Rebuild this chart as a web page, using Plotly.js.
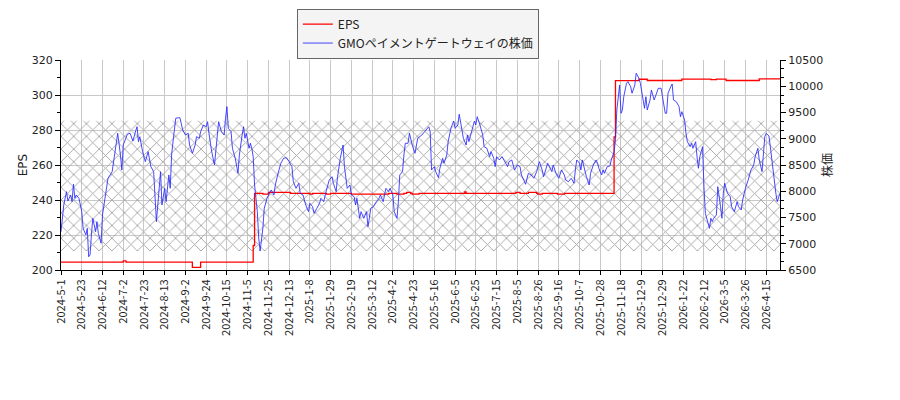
<!DOCTYPE html>
<html>
<head>
<meta charset="utf-8">
<script src="https://cdn.plot.ly/plotly-3.0.1.min.js"></script>
<style>
  body { margin: 0; background: #fff; }
  #myDiv { width: 900px; height: 400px; }
</style>
</head>
<body>
<div id="myDiv"></div>
<script>
// x axis is the trading-day index, tick every 15 days
var tickLabels = ['2024-5-1','2024-5-23','2024-6-12','2024-7-2','2024-7-23','2024-8-13','2024-9-2',
  '2024-9-24','2024-10-15','2024-11-5','2024-11-25','2024-12-13','2025-1-8','2025-1-29','2025-2-19',
  '2025-3-12','2025-4-2','2025-4-23','2025-5-16','2025-6-5','2025-6-25','2025-7-15','2025-8-5',
  '2025-8-26','2025-9-16','2025-10-7','2025-10-28','2025-11-18','2025-12-9','2025-12-29','2026-1-22',
  '2026-2-12','2026-3-5','2026-3-26','2026-4-15'];

var epsIdx = [0,45,47,95,101,139,140,146,150,166,180,182,192,195,210,237,243,248,250,253,
  254,259,292,293,329,332,338,344,345,348,359,364,400,401,418,424,449,470,474,481,505,520];
var epsVal = [204.5,205.2,204.5,201.5,204.5,214,243.8,243.3,244.3,243.8,243.3,243.8,243.3,243.8,243.3,243.8,243.3,243.8,244.3,243.8,
  243.3,243.8,244.6,243.8,244.3,243.8,244.4,243.8,243.3,243.8,243.3,243.8,276,308.2,309.0,308.3,309.1,308.8,309.1,308.3,309.2,309.2];

var priceIdx = [0,2,4,5,7,8,9,10,11,13,15,16,18,19,20,21,22,23,25,26,27,29,30,32,34,37,39,41,43,44,
  45,48,50,52,54,55,56,57,59,61,63,65,67,68,69,70,72,73,75,76,78,79,80,81,83,85,86,88,90,92,
  93,95,97,98,100,101,103,105,106,107,109,111,113,114,116,118,119,120,121,123,124,126,128,129,131,132,133,134,136,137,
  138,139,140,142,143,144,146,147,149,150,152,154,155,157,159,161,163,165,167,168,170,172,173,175,177,179,180,182,183,185,
  187,188,190,192,194,196,197,199,200,202,204,205,207,209,210,212,213,214,216,217,219,221,222,223,224,226,228,230,231,233,
  235,237,238,240,241,243,244,245,247,248,249,251,252,254,256,258,261,263,266,267,268,270,271,273,274,276,277,279,280,282,
  284,285,287,288,290,291,293,294,295,297,299,300,301,303,305,306,308,310,311,313,314,315,317,319,321,323,324,326,328,330,
  332,333,335,336,338,340,342,344,346,348,349,351,352,355,356,358,360,362,364,365,367,369,371,372,373,375,376,377,379,380,
  382,383,385,387,388,389,391,392,393,395,397,398,400,401,402,403,404,405,406,407,409,410,412,413,415,416,418,419,420,422,
  423,424,426,427,429,431,432,434,435,437,438,439,441,442,443,445,447,448,449,451,452,453,455,456,457,459,460,461,462,463,
  464,465,466,468,469,470,471,472,474,475,476,477,478,479,480,482,484,485,487,489,490,492,493,495,497,499,501,502,504,505,
  507,508,509,510,512,513,515,516,517,518,520];
var priceVal = [7230,7738,7992,7814,7929,7801,8133,7866,7929,7866,7611,7294,7167,7294,6753,6786,7167,7485,7230,7420,7199,7009,7548,7929,8247,8373,8723,9104,8691,8405,
  8881,9085,9104,8957,9148,9230,8944,9039,8754,8563,8754,8468,8373,7929,7420,7738,8373,7738,8056,7801,8310,8056,8691,8944,9390,9401,9401,9167,9072,9104,
  8881,8723,8881,9039,9009,9135,9262,9230,9325,9104,8754,8500,9009,9325,9135,9072,9390,9611,9199,9135,8818,8628,8342,8691,9072,9230,9009,9104,8818,8914,
  8818,8658,8119,7611,7104,6862,7294,7675,7866,7929,8024,7929,8119,8342,8533,8628,8639,8563,8468,8182,8056,8152,7961,7929,7738,7611,7771,7706,7580,7675,
  7771,7866,7801,8024,8215,8277,8152,7992,8277,8628,8881,8468,8056,8119,7929,7896,7738,7866,7485,7611,7485,7611,7325,7485,7675,7706,7801,7866,7929,7801,
  8056,7992,8056,7929,7611,7485,7801,8310,8373,8691,8914,8914,9104,8881,8723,9009,9072,9135,9230,9135,8405,8468,8373,8258,8437,8628,8533,8691,8944,9199,
  9338,9199,9262,9466,9199,9009,8881,9072,8944,9135,9338,9262,9420,9262,9072,8849,8818,8658,8754,8628,8468,8658,8596,8658,8563,8468,8563,8596,8405,8500,
  8468,8310,8195,8133,8342,8310,8247,8373,8563,8405,8277,8437,8533,8373,8500,8342,8247,8405,8310,8215,8182,8247,8152,8405,8596,8533,8405,8596,8342,8277,
  8119,8342,8500,8596,8533,8437,8310,8405,8342,8468,8481,8596,8754,8977,9548,9866,10024,9485,9548,9801,10057,10087,9992,9866,10024,10247,10152,10057,9897,9580,
  9801,9548,9739,9929,9739,9866,9961,9961,9801,9485,9485,9866,9992,10043,9739,9706,9611,9420,9516,9358,9104,8944,8849,8914,8818,8944,8658,8437,8658,8786,
  8849,8087,7580,7390,7294,7485,7420,7485,7548,8087,7834,7706,7485,7961,8152,7961,7896,7706,7611,7801,7706,7643,7834,8056,8215,8405,8500,8658,8818,8596,
  8373,8723,9039,9104,9053,8849,8405,8119,7961,7801,7961];

// hatched band, in EPS units
var bandLow = 210.9;
var bandHigh = 285.3;

var tickVals = tickLabels.map(function (t, i) { return i * 15; });
var xEnd = priceIdx[priceIdx.length - 1];

var band = {
  x: [0, xEnd, xEnd, 0, 0],
  y: [bandLow, bandLow, bandHigh, bandHigh, bandLow],
  type: 'scatter', mode: 'lines', fill: 'toself',
  line: {width: 0},
  fillcolor: 'rgba(0,0,0,0)',
  fillpattern: {shape: 'x', size: 9, solidity: 0.2, fgcolor: '#a8a8a8', bgcolor: 'rgba(255,255,255,0)'},
  showlegend: false, hoverinfo: 'skip'
};

var eps = {
  x: epsIdx, y: epsVal, name: 'EPS',
  type: 'scatter', mode: 'lines',
  line: {color: '#ff0000', width: 1.3, shape: 'hv'}
};

var price = {
  x: priceIdx, y: priceVal, name: 'GMOペイメントゲートウェイの株価',
  type: 'scatter', mode: 'lines', yaxis: 'y2',
  line: {color: 'rgba(40,40,255,0.85)', width: 1}
};

var tickFont = {family: 'DejaVu Sans', size: 11, color: '#222'};

var layout = {
  width: 900, height: 400,
  margin: {l: 61, r: 120, t: 60, b: 130, autoexpand: false},
  paper_bgcolor: '#fff', plot_bgcolor: '#fff',
  showlegend: true,
  legend: {
    x: 0.328, y: 1.245, xanchor: 'left', yanchor: 'top',
    bgcolor: '#f4f4f4', bordercolor: '#666', borderwidth: 1,
    font: {family: 'Noto Sans CJK JP', size: 12, color: '#222'},
    tracegroupgap: 0
  },
  xaxis: {
    range: [0, xEnd],
    tickmode: 'array', tickvals: tickVals, ticktext: tickLabels,
    tickangle: -90,
    tickfont: {family: 'Noto Sans CJK JP', size: 11, color: '#222'},
    ticks: 'outside', ticklen: 4, tickcolor: '#000',
    showgrid: true, gridcolor: '#c8c8c8', gridwidth: 1,
    showline: true, linecolor: '#000', linewidth: 1,
    zeroline: false
  },
  yaxis: {
    range: [200, 320], dtick: 20,
    title: {text: 'EPS', font: {family: 'DejaVu Sans', size: 12, color: '#222'}},
    tickfont: tickFont,
    ticks: 'outside', ticklen: 5, tickcolor: '#000',
    minor: {dtick: 10, ticks: 'outside', ticklen: 3, tickcolor: '#000', showgrid: false},
    showgrid: true, gridcolor: '#c8c8c8', gridwidth: 1,
    showline: true, linecolor: '#000', linewidth: 1,
    zeroline: false
  },
  yaxis2: {
    overlaying: 'y', side: 'right',
    range: [6500, 10500], dtick: 500, tickformat: 'd',
    title: {text: '株価', font: {family: 'Noto Sans CJK JP', size: 12, color: '#222'}},
    tickfont: tickFont,
    ticks: 'outside', ticklen: 5, tickcolor: '#000',
    minor: {dtick: 500 / 3, ticks: 'outside', ticklen: 3, tickcolor: '#000', showgrid: false},
    showgrid: false,
    showline: true, linecolor: '#000', linewidth: 1,
    zeroline: false
  }
};

Plotly.newPlot('myDiv', [band, eps, price], layout, {displayModeBar: false, staticPlot: true});
</script>
</body>
</html>
